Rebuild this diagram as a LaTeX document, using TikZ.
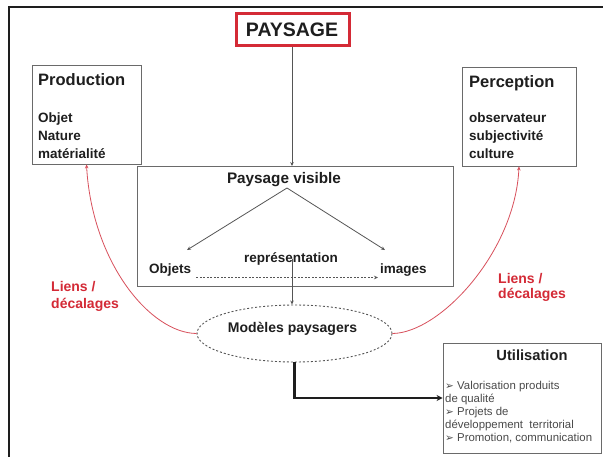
\documentclass[tikz,border=0pt]{standalone}
\usepackage{fontspec}
\setmainfont{Liberation Sans}
\newfontfamily\dejavu{DejaVu Sans}
\usetikzlibrary{arrows.meta,shapes.geometric}
\definecolor{boxgray}{HTML}{6A6A6A}
\definecolor{linegray}{HTML}{555555}
\definecolor{txt}{HTML}{1E1E1E}
\definecolor{pred}{HTML}{D42A36}
\definecolor{curvered}{HTML}{D8505C}
\definecolor{itemgray}{HTML}{4A4A4A}
\newcommand{\bul}{{\dejavu\fontsize{10.5}{12}\selectfont ➢}}
\begin{document}
\begin{tikzpicture}[x=1pt,y=-1pt,
  box/.style={draw=boxgray,line width=0.9pt,fill=white,inner sep=0pt},
  txtb/.style={anchor=base west,inner sep=0pt,text=txt,font=\bfseries\fontsize{13.5}{16}\selectfont},
  ttl/.style={anchor=base west,inner sep=0pt,text=txt,font=\bfseries\fontsize{16.5}{19}\selectfont},
  item/.style={anchor=base west,inner sep=0pt,text=itemgray,font=\fontsize{11.4}{13}\selectfont},
  lien/.style={anchor=base west,inner sep=0pt,text=pred,font=\bfseries\fontsize{14}{16}\selectfont},
  conn/.style={draw=linegray,line width=0.8pt,-{Stealth[length=4pt,width=3.5pt]}},
  redc/.style={draw=curvered,line width=0.8pt,-{Stealth[length=4pt,width=3.5pt]}}]
\useasboundingbox (0,0) rectangle (603,456);
\clip (0,0) rectangle (603,456);
\fill[white] (0,0) rectangle (603,456);
% outer frame
\draw[line width=1.3pt,draw=txt] (9,7) rectangle (620,470);

% boxes
\node[draw=pred,line width=3pt,fill=white,minimum width=113pt,minimum height=32pt,inner sep=0pt] (pay) at (292.5,29) {};
\node[anchor=base,inner sep=0pt,text=txt,font=\bfseries\fontsize{19.5}{22}\selectfont] (payt) at (292,36) {PAYSAGE};

\node[box,minimum width=109pt,minimum height=99pt] (prod) at (86.5,114.5) {};
\node[box,minimum width=114pt,minimum height=99pt] (perc) at (519,116.5) {};
\node[box,minimum width=316pt,minimum height=120pt] (pv) at (295,226.5) {};
\node[box,minimum width=158pt,minimum height=110pt] (util) at (522,398) {};
\node[draw=linegray,line width=0.9pt,dash pattern=on 2pt off 2pt,ellipse,minimum width=195pt,minimum height=57pt,inner sep=0pt] (mod) at (294.5,333.5) {};

% Production
\node[ttl] (prodt) at (38,85) {Production};
\node[txtb] (p1) at (38,122) {Objet};
\node[txtb] (p2) at (38,140) {Nature};
\node[txtb] (p3) at (38,158) {matérialité};

% Perception
\node[ttl] (perct) at (469,87) {Perception};
\node[txtb] (q1) at (469,122) {observateur};
\node[txtb] (q2) at (469,140) {subjectivité};
\node[txtb] (q3) at (469,158) {culture};

% Paysage visible
\node[anchor=base,inner sep=0pt,text=txt,font=\bfseries\fontsize{15.3}{18}\selectfont] (pvt) at (284,183) {Paysage visible};
\node[txtb] (obj) at (149,273) {Objets};
\node[txtb] (img) at (380,273) {images};
\node[txtb,anchor=base] (rep) at (291,262) {représentation};
\coordinate (apex) at (287,188);
\coordinate (oend) at (187,250);
\coordinate (iend) at (385,250);

% Modeles
\node[anchor=base,inner sep=0pt,text=txt,font=\bfseries\fontsize{14}{16}\selectfont] (modt) at (292.5,332) {Modèles paysagers};

% Utilisation
\node[anchor=base,inner sep=0pt,text=txt,font=\bfseries\fontsize{14.7}{17}\selectfont] (utilt) at (532,360) {Utilisation};
\node[item] (u1) at (445,389) {\bul{} Valorisation produits};
\node[item] (u2) at (445,402) {de qualité};
\node[item] (u3) at (445,415) {\bul{} Projets de};
\node[item] (u4) at (445,428) {développement~ territorial};
\node[item] (u5) at (445,441) {\bul{} Promotion, communication};

% Liens
\node[lien] (l1) at (51,291) {Liens /};
\node[lien] (l2) at (51,308) {décalages};
\node[lien] (r1) at (498,283) {Liens /};
\node[lien] (r2) at (498,298) {décalages};

% connectors
\draw[conn] (pay.south -| 292,0) -- (pv.north -| 292,0);
\draw[conn] (apex) -- (oend);
\draw[conn] (apex) -- (iend);
\draw[conn,dash pattern=on 2pt off 1.5pt] ([xshift=5pt,yshift=-4.5pt]obj.base east) -- ([xshift=-2pt,yshift=-4.5pt]img.base west);
\draw[conn] ([yshift=3pt]rep.base -| 292,0) -- (mod.north -| 292,0);
\draw[line width=2.3pt,draw=txt,-{Stealth[length=6pt,width=6pt]}] (mod.south) |- (util.west);
\draw[redc] (mod.west) .. controls (150,333) and (92,262) .. (prod.south);
\draw[redc] (mod.east) .. controls (440,333) and (515,252) .. (perc.south);
\end{tikzpicture}
\end{document}
